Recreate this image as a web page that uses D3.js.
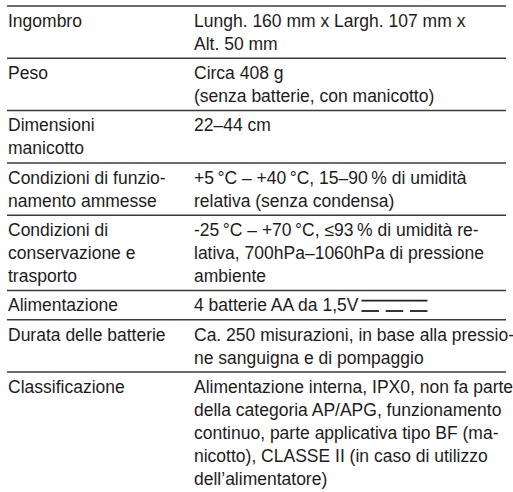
<!DOCTYPE html>
<html>
<head>
<meta charset="utf-8">
<script src="https://cdn.jsdelivr.net/npm/d3@7"></script>
<style>
  html, body { margin: 0; padding: 0; background: #fff; }
  svg { display: block; }
</style>
</head>
<body>
<svg id="chart" width="513" height="492"></svg>
<script>
// ---- data ----
const labels = [
  ["Ingombro"],
  ["Peso"],
  ["Dimensioni", "manicotto"],
  ["Condizioni di funzio-", "namento ammesse"],
  ["Condizioni di", "conservazione e", "trasporto"],
  ["Alimentazione"],
  ["Durata delle batterie"],
  ["Classificazione"]
];
const values = [
  ["Lungh. 160 mm x Largh. 107 mm x", "Alt. 50 mm"],
  ["Circa 408 g", "(senza batterie, con manicotto)"],
  ["22\u201344 cm"],
  ["+5\u2009°C \u2013 +40\u2009°C, 15\u201390\u2009% di umidità", "relativa (senza condensa)"],
  ["-25\u2009°C \u2013 +70\u2009°C, \u226493\u2009% di umidità re-", "lativa, 700hPa\u20131060hPa di pressione", "ambiente"],
  ["4 batterie AA da 1,5V"],
  ["Ca. 250 misurazioni, in base alla pressio-", "ne sanguigna e di pompaggio"],
  ["Alimentazione interna, IPX0, non fa parte", "della categoria AP/APG, funzionamento", "continuo, parte applicativa tipo BF (ma-", "nicotto), CLASSE II (in caso di utilizzo", "dell\u2019alimentatore)"]
];
const dcSymbolRow = 5;   // row whose value is followed by the DC symbol

// ---- layout ----
const svg = d3.select("#chart");
const lineH = 23, pad = 6.3, top0 = 6;
const nLines = labels.map((l, i) => Math.max(l.length, values[i].length));
const rowTop = [];
let acc = 0;
nLines.forEach((n, i) => { rowTop.push(acc); acc += n; });
const y = (lineIdx, rowIdx) => top0 + lineIdx * lineH + rowIdx * pad;
const x = d3.scaleOrdinal().domain(["label", "value"]).range([8, 194]);
const ruleX = d3.scaleLinear().domain([0, 1]).range([7, 506]);

const font = "'Liberation Sans', Arial, Helvetica, sans-serif";
const textColor = "#1e1b1c";
const ruleColor = "#3a3a3a";

const ruleYs = [];
for (let i = 0; i < labels.length; i++) ruleYs.push(y(rowTop[i], i));
svg.selectAll("line.rule").data(ruleYs).join("line")
  .attr("class", "rule")
  .attr("x1", ruleX(0)).attr("x2", ruleX(1))
  .attr("y1", d => d).attr("y2", d => d)
  .attr("stroke", ruleColor).attr("stroke-width", 1.5);

const rows = svg.selectAll("g.row").data(labels.map((l, i) => ({l, v: values[i], i})))
  .join("g").attr("class", "row");

function addLines(g, col, lines, i) {
  g.selectAll("text." + col).data(lines).join("text")
    .attr("class", col)
    .attr("x", x(col))
    .attr("y", (d, j) => y(rowTop[i] + j, i) + 20.7)
    .attr("font-family", font)
    .attr("font-size", 17.5)
    .attr("fill", textColor)
    .text(d => d);
}
rows.each(function(d) {
  const g = d3.select(this);
  addLines(g, "label", d.l, d.i);
  addLines(g, "value", d.v, d.i);
});

// DC symbol after "1,5V"
const dcText = rows.filter(d => d.i === dcSymbolRow).select("text.value");
const endX = x("value") + dcText.node().getComputedTextLength() + 3;
const base = y(rowTop[dcSymbolRow], dcSymbolRow);
const symW = 66, dashW = 17.5, gap = 6.75;
svg.append("line").attr("x1", endX).attr("x2", endX + symW)
  .attr("y1", base + 10.2).attr("y2", base + 10.2)
  .attr("stroke", "#231f20").attr("stroke-width", 1.8);
d3.range(3).forEach(k => {
  svg.append("line")
    .attr("x1", endX + k * (dashW + gap)).attr("x2", endX + k * (dashW + gap) + dashW)
    .attr("y1", base + 20.5).attr("y2", base + 20.5)
    .attr("stroke", "#231f20").attr("stroke-width", 1.8);
});
</script>
</body>
</html>
